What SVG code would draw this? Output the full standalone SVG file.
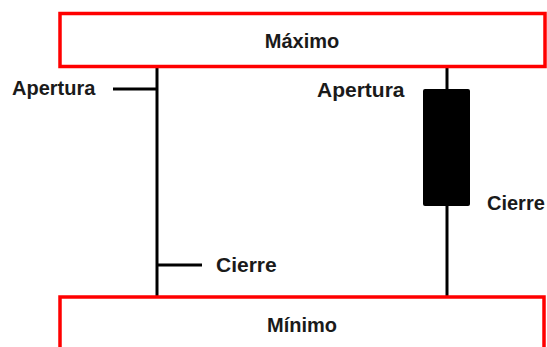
<svg xmlns="http://www.w3.org/2000/svg" width="547" height="347" viewBox="0 0 547 347">
<style>
.box{fill:#fff;stroke:#ff0000;stroke-width:3.5}
.ln{stroke:#000;stroke-width:3;fill:none}
.t{font-family:"Liberation Sans",Arial,sans-serif;font-weight:bold;font-size:20px;fill:#1a1a1a}
</style>
<rect width="547" height="347" fill="#fff"/>
<g id="connectors">
<line class="ln" x1="157" y1="67" x2="157" y2="297"/>
<line class="ln" x1="113" y1="89" x2="157" y2="89"/>
<line class="ln" x1="157" y1="265" x2="202" y2="265"/>
<line class="ln" x1="447" y1="67" x2="447" y2="297"/>
</g>
<g id="maximo">
<rect class="box" x="60" y="13.5" width="485" height="53"/>
<text class="t" x="302" y="48" text-anchor="middle">Máximo</text>
</g>
<g id="minimo">
<rect class="box" x="60" y="297" width="484" height="60"/>
<text class="t" x="302" y="332" text-anchor="middle">Mínimo</text>
</g>
<g id="candle">
<rect x="423" y="89" width="47" height="117" rx="2" fill="#000"/>
</g>
<g id="labels">
<text class="t" x="12" y="95">Apertura</text>
<text class="t" x="216" y="272" style="font-size:21px">Cierre</text>
<text class="t" x="317" y="97" style="font-size:21px">Apertura</text>
<text class="t" x="487" y="210">Cierre</text>
</g>
</svg>
